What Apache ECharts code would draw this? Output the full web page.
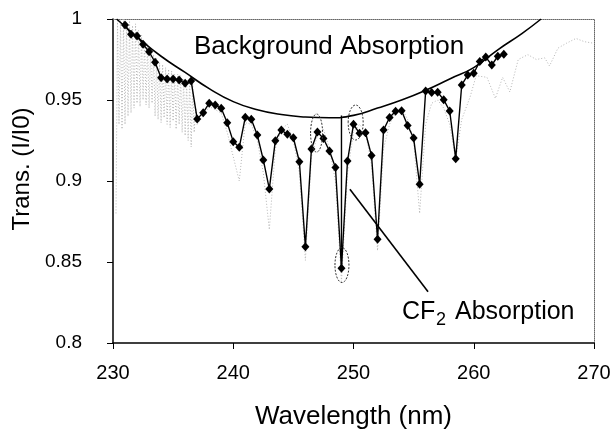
<!DOCTYPE html>
<html><head><meta charset="utf-8">
<script src="https://cdn.jsdelivr.net/npm/echarts@6/dist/echarts.min.js"></script>
<style>html,body{margin:0;padding:0;background:#fff}#c{width:613px;height:432px}</style>
</head><body><div id="c"></div>
<script>
// Measured (black diamonds)
const blackX = [231,231.5,232,232.5,233,233.5,234,234.5,235,235.5,236,236.5,237,237.5,238,238.5,239,239.5,240,240.5,241,241.5,242,242.5,243,243.5,244,244.5,245,245.5,246,246.5,247,247.5,248,248.5,249,249.5,250,250.5,251,251.5,252,252.5,253,253.5,254,254.5,255,255.5,256,256.5,257,257.5,258,258.5,259,259.5,260,260.5,261,261.5,262,262.5];
const blackY = [0.9963,0.9906,0.9895,0.9844,0.9798,0.9733,0.9638,0.9630,0.9630,0.9623,0.9603,0.9617,0.9383,0.9422,0.9480,0.9469,0.9449,0.9360,0.9243,0.9208,0.9393,0.9381,0.9284,0.9130,0.8951,0.9249,0.9315,0.9288,0.9267,0.9119,0.8594,0.9198,0.9302,0.9262,0.9185,0.9083,0.8461,0.9123,0.9350,0.9294,0.9298,0.9157,0.8640,0.9315,0.9392,0.9430,0.9433,0.9343,0.9265,0.8980,0.9556,0.9546,0.9548,0.9502,0.9432,0.9138,0.9593,0.9654,0.9665,0.9738,0.9765,0.9716,0.9770,0.9782];

// High-resolution spectrum (grey dotted)
const grayX = [230.25,230.375,230.5,230.625,230.75,230.875,231,231.125,231.25,231.375,231.5,231.625,231.75,231.875,232,232.125,232.25,232.375,232.5,232.625,232.75,232.875,233,233.125,233.25,233.375,233.5,233.625,233.75,233.875,234,234.125,234.25,234.375,234.5,234.625,234.75,234.875,235,235.125,235.25,235.375,235.5,235.625,235.75,235.875,236,236.125,236.25,236.375,236.5,236.625,236.75,236.875,
  237,237.5,238,238.5,239,239.5,240,240.5,241,241.5,242,242.5,243,243.5,244,244.5,245,245.5,246,246.5,247,247.5,248,248.5,249,249.5,250,250.5,251,251.5,252,252.5,253,253.5,254,254.5,255,255.5,256,256.5,257,257.5,258,258.5,259,259.7,260.2,261.1,261.8,262.4,263,263.7,264.5,265.2,265.9,266.3,267,267.7,268.5,269.2,270];
const grayY = [0.880,0.999,0.935,1.0,0.932,1.0,0.935,0.998,0.940,0.999,0.942,0.996,0.945,0.997,0.948,0.993,0.946,0.990,0.950,0.986,0.947,0.985,0.945,0.981,0.948,0.978,0.940,0.976,0.938,0.973,0.936,0.972,0.939,0.970,0.935,0.969,0.933,0.968,0.937,0.966,0.932,0.966,0.935,0.965,0.930,0.963,0.928,0.962,0.925,0.963,0.921,0.960,0.930,0.945,
  0.935,0.940,0.946,0.944,0.942,0.930,0.915,0.900,0.936,0.935,0.925,0.905,0.870,0.920,0.932,0.935,0.925,0.905,0.851,0.915,0.928,0.932,0.920,0.900,0.838,0.905,0.930,0.935,0.930,0.910,0.857,0.920,0.935,0.942,0.945,0.938,0.925,0.880,0.935,0.948,0.950,0.945,0.935,0.913,0.938,0.952,0.965,0.964,0.951,0.964,0.955,0.975,0.978,0.975,0.976,0.971,0.982,0.985,0.988,0.986,0.985];

// Background absorption curve
const bgX = [230.3,232,234,236,238,240,242,244,246,248,250,252,254,256,258,260,262,264,265.6];
const bgY = [1.0,0.989,0.977,0.967,0.957,0.949,0.944,0.941,0.9395,0.939,0.9405,0.945,0.950,0.956,0.963,0.970,0.981,0.991,1.0];

// Annotation lines
const dropX = [249,249];
const dropY = [0.9404,0.8461];
const pointerX = [249.7,256.2];
const pointerY = [0.8949,0.8317];

// Ellipse annotations (data centres)
const ellX = [246.93,249.04,250.18];
const ellY = [0.9296,0.8481,0.9361];

const xTicks = [230,240,250,260,270];
const yTicks = [0.8,0.85,0.9,0.95,1];

const pair = (xs, ys) => xs.map((x,i)=>[x, ys[i]]);
const FONT = 'Liberation Sans, Arial, sans-serif';

const chart = echarts.init(document.getElementById('c'), null, {renderer:'canvas'});
chart.setOption({
  animation:false,
  backgroundColor:'#fff',
  grid:{left:113, right:19, top:19, bottom:89, containLabel:false, outerBoundsMode:'none'},
  xAxis:[{
    type:'value', min:xTicks[0], max:xTicks[xTicks.length-1], interval:10,
    name:'Wavelength (nm)', nameLocation:'middle', nameGap:61,
    nameTextStyle:{fontFamily:FONT, fontSize:26, color:'#000'},
    axisLine:{lineStyle:{color:'#000', width:1.5}},
    axisTick:{length:6, lineStyle:{color:'#000', width:1}},
    axisLabel:{fontFamily:FONT, fontSize:20, color:'#000', margin:20},
    splitLine:{show:false}
  },{
    type:'value', position:'top', min:230, max:270,
    axisLine:{show:true, onZero:false, lineStyle:{color:'#666', width:1, type:'dotted'}},
    axisTick:{show:false}, axisLabel:{show:false}, splitLine:{show:false}
  }],
  yAxis:[{
    type:'value', min:yTicks[0], max:yTicks[yTicks.length-1], interval:0.05,
    name:'Trans. (I/I0)', nameLocation:'middle', nameGap:77,
    nameTextStyle:{fontFamily:FONT, fontSize:24, color:'#000', padding:[0,0,0,24]},
    axisLine:{lineStyle:{color:'#000', width:1.5}},
    axisTick:{length:6, lineStyle:{color:'#000', width:1}},
    axisLabel:{fontFamily:FONT, fontSize:19, color:'#000', margin:31},
    splitLine:{show:false}
  },{
    type:'value', position:'right', min:0.8, max:1,
    axisLine:{show:true, onZero:false, lineStyle:{color:'#666', width:1, type:'dotted'}},
    axisTick:{show:false}, axisLabel:{show:false}, splitLine:{show:false}
  }],
  series:[
    {type:'line', data:pair(grayX, grayY), showSymbol:false, symbol:'none',
     lineStyle:{color:'#b4b4b4', width:1, type:[1,2]}, z:1, silent:true},
    {type:'line', data:pair(bgX, bgY), smooth:0.5, symbol:'none',
     lineStyle:{color:'#000', width:1.6}, z:3},
    {type:'line', data:pair(dropX, dropY), symbol:'none',
     lineStyle:{color:'#000', width:1.4}, z:3},
    {type:'line', data:pair(pointerX, pointerY), symbol:'none',
     lineStyle:{color:'#000', width:1.6}, z:3},
    {type:'line', data:pair(blackX, blackY), symbol:'diamond', symbolSize:[8,9],
     itemStyle:{color:'#000'}, lineStyle:{color:'#000', width:1.4}, z:4}
  ]
});

const ellR = [[6,19],[7,17.5],[7.5,17.5]];
const graphics = ellX.map((x,i)=>{
  const p = chart.convertToPixel({gridIndex:0}, [x, ellY[i]]);
  return {type:'ellipse', shape:{cx:p[0], cy:p[1], rx:ellR[i][0], ry:ellR[i][1]},
    style:{fill:'none', stroke:'#333', lineWidth:1, lineDash:[2,1.5]}, z:5};
});
graphics.push({type:'text', left:194, top:34, style:{text:'Background Absorption', fontFamily:FONT, fontSize:26, fill:'#000'}, z:6});
graphics.push({type:'text', left:402, top:300, style:{text:'CF', fontFamily:FONT, fontSize:25, fill:'#000'}, z:6});
graphics.push({type:'text', left:436, top:311, style:{text:'2', fontFamily:FONT, fontSize:18, fill:'#000'}, z:6});
graphics.push({type:'text', left:455, top:300, style:{text:'Absorption', fontFamily:FONT, fontSize:25, fill:'#000'}, z:6});
chart.setOption({graphic:graphics});
</script></body></html>
